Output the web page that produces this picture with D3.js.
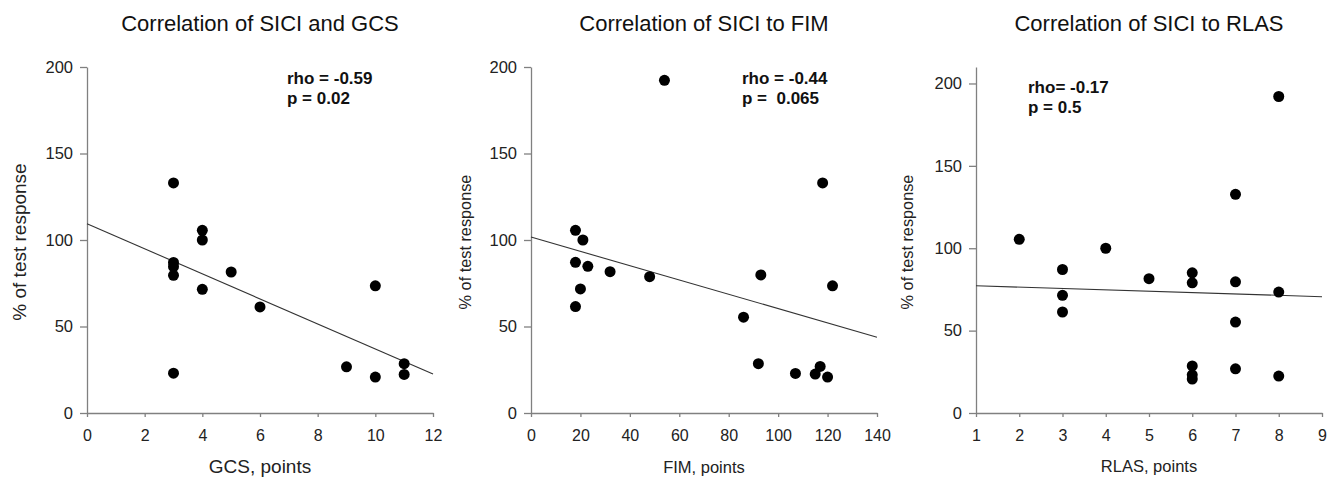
<!DOCTYPE html>
<html>
<head>
<meta charset="utf-8">
<script src="https://cdn.jsdelivr.net/npm/d3@7"></script>
<style>
  body { margin: 0; background: #fff; }
  svg { display: block; font-family: "Liberation Sans", Arial, sans-serif; }
  .domain, .tick line { stroke: #808080; stroke-width: 1.3; }
  .tick text { fill: #222; }
</style>
</head>
<body>
<div id="chart"></div>
<script>
// GCS panel
const gcsX = [3, 3, 3, 3, 3, 4, 4, 4, 5, 6, 9, 10, 10, 11, 11];
const gcsY = [133, 87, 84.6, 79.6, 23, 105.6, 100, 71.5, 81.5, 61.3, 26.7, 73.5, 20.8, 28.5, 22.3];
const gcsFit = [[0, 109.4], [12, 22.5]];

// FIM panel
const fimX = [54, 118, 18, 21, 18, 23, 32, 48, 20, 18, 93, 122, 86, 92, 107, 115, 117, 120];
const fimY = [192.3, 133, 105.6, 100, 87.1, 84.8, 81.7, 78.8, 71.7, 61.5, 79.8, 73.5, 55.4, 28.5, 22.9, 22.5, 26.9, 20.8];
const fimFit = [[0, 101.7], [140, 43.8]];

// RLAS panel
const rlasX = [2, 3, 3, 3, 4, 5, 6, 6, 6, 6, 6, 7, 7, 7, 7, 8, 8, 8];
const rlasY = [105.4, 87.1, 71.4, 61.3, 100, 81.5, 85.1, 79, 28.6, 23.2, 20.6, 132.7, 79.6, 55.2, 26.8, 192.1, 73.4, 22.4];
const rlasFit = [[1, 77.2], [9, 70.6]];

const titles = ["Correlation of SICI and GCS", "Correlation of SICI to FIM", "Correlation of SICI to RLAS"];
const xLabels = ["GCS, points", "FIM, points", "RLAS, points"];
const statLines = [["rho = -0.59", "p = 0.02"], ["rho = -0.44", "p =  0.065"], ["rho= -0.17", "p = 0.5"]];
const xTicks = [d3.range(0, 13, 2), d3.range(0, 141, 20), d3.range(1, 10, 1)];
const yTicks = [0, 50, 100, 150, 200];

const W = 1336, H = 478;
const svg = d3.select("#chart").append("svg")
    .attr("width", W)
    .attr("height", H);

const panels = [
    { xs: gcsX, ys: gcsY, fit: gcsFit, xDom: [0, 12], yDom: [0, 200], left: 87,
      yLabX: 19, yLabSize: 19, xLabSize: 19, xLabY: 473, stat: [287, 84] },
    { xs: fimX, ys: fimY, fit: fimFit, xDom: [0, 140], yDom: [0, 200], left: 531,
      yLabX: 465, yLabSize: 16.3, xLabSize: 16.5, xLabY: 473, stat: [742, 84] },
    { xs: rlasX, ys: rlasY, fit: rlasFit, xDom: [1, 9], yDom: [0, 210], left: 976,
      yLabX: 907, yLabSize: 16.3, xLabSize: 16.5, xLabY: 472, stat: [1028, 93] }
];
const pw = 346, plotTop = 67, plotBottom = 413;

panels.forEach((p, i) => {
    const g = svg.append("g");

    const x = d3.scaleLinear().domain(p.xDom).range([p.left, p.left + pw]);
    const y = d3.scaleLinear().domain(p.yDom).range([plotBottom, plotTop]);

    g.append("g")
        .attr("transform", `translate(0,${plotBottom})`)
        .call(d3.axisBottom(x).tickValues(xTicks[i]).tickSizeInner(4).tickSizeOuter(0).tickPadding(13))
        .call(a => a.selectAll("text").style("font-size", "16px"));

    g.append("g")
        .attr("transform", `translate(${p.left},0)`)
        .call(d3.axisLeft(y).tickValues(yTicks).tickSizeInner(7).tickSizeOuter(0).tickPadding(7))
        .call(a => a.selectAll("text").style("font-size", "16.5px"));

    // regression line
    g.append("line")
        .attr("x1", x(p.fit[0][0])).attr("y1", y(p.fit[0][1]))
        .attr("x2", x(p.fit[1][0])).attr("y2", y(p.fit[1][1]))
        .attr("stroke", "#333")
        .attr("stroke-width", 1.1);

    g.selectAll(".dot")
        .data(p.xs.map((v, k) => [v, p.ys[k]]))
        .enter()
        .append("circle")
        .attr("cx", d => x(d[0]))
        .attr("cy", d => y(d[1]))
        .attr("r", 5.5)
        .attr("fill", "#000");

    g.append("text")
        .attr("x", p.left + pw / 2)
        .attr("y", 31)
        .attr("text-anchor", "middle")
        .style("font-size", "22px")
        .attr("fill", "#111")
        .text(titles[i]);

    g.append("text")
        .attr("x", p.left + pw / 2)
        .attr("y", p.xLabY)
        .attr("text-anchor", "middle")
        .style("font-size", `${p.xLabSize}px`)
        .attr("fill", "#222")
        .text(xLabels[i]);

    g.append("text")
        .attr("transform", `translate(${p.yLabX},${(plotTop + plotBottom) / 2 + 2}) rotate(-90)`)
        .attr("text-anchor", "middle")
        .attr("dy", "0.35em")
        .style("font-size", `${p.yLabSize}px`)
        .attr("fill", "#222")
        .text("% of test response");

    statLines[i].forEach((s, k) => {
        g.append("text")
            .attr("x", p.stat[0])
            .attr("y", p.stat[1] + k * 20)
            .style("font-size", "17px")
            .style("font-weight", "bold")
            .attr("fill", "#111")
            .style("white-space", "pre")
            .text(s);
    });
});
</script>
</body>
</html>
